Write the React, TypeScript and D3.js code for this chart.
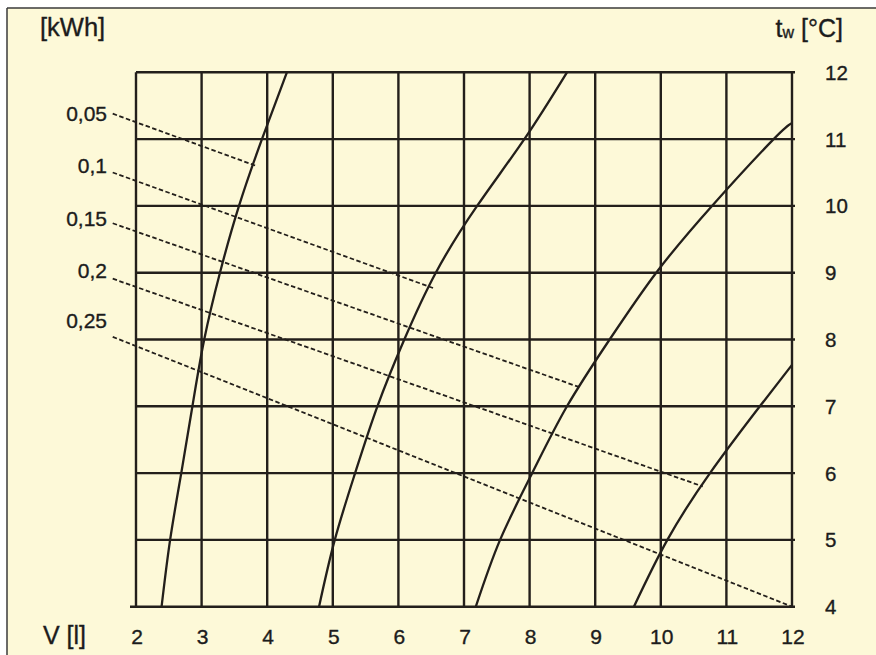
import React from "react";
import * as d3 from "d3";

// Chart frame
const W = 876;
const H = 655;

// Axis ticks
const volumeTicks = [2, 3, 4, 5, 6, 7, 8, 9, 10, 11, 12];
const tempTicks = [4, 5, 6, 7, 8, 9, 10, 11, 12];

// Solid curves: water volume V [l] against temperature tw [°C]
const curve1V = [2.39, 2.52, 2.69, 2.86, 3.04, 3.28, 3.57, 3.92, 4.3];
const curve1T = [4, 5, 6, 7, 8, 9, 10, 11, 12];
const curve2V = [4.79, 5.03, 5.34, 5.68, 6.09, 6.57, 7.2, 7.92, 8.57];
const curve2T = [4, 5, 6, 7, 8, 9, 10, 11, 12];
const curve3V = [7.18, 7.55, 8.04, 8.57, 9.22, 9.93, 10.78, 11.72, 12];
const curve3T = [4, 5, 6, 7, 8, 9, 10, 11, 11.24];
const curve4V = [9.59, 10.1, 10.75, 11.51, 12];
const curve4T = [4, 5, 6, 7, 7.62];

// Energy lines [kWh]
const energyLabels = ["0,05", "0,1", "0,15", "0,2", "0,25"];
const energyStartV = [1.645, 1.645, 1.645, 1.645, 1.645];
const energyStartT = [11.38, 10.5, 9.74, 8.91, 8.04];
const energyEndV = [3.83, 6.53, 8.75, 10.64, 12];
const energyEndT = [10.6, 8.77, 7.29, 5.8, 4.0];
const energyLabelT = [11.27, 10.49, 9.7, 8.92, 8.17];

const BG = "#fdf9d8";
const INK = "#231f1b";
const TEXT = "#1c1c1c";
const FONT = "'Liberation Sans', Arial, sans-serif";

export default function App() {
  const x = d3.scaleLinear().domain([2, 12]).range([136, 792]);
  const y = d3.scaleLinear().domain([4, 12]).range([606.7, 72.3]);

  const line = d3
    .line<[number, number]>()
    .x((d) => x(d[0]))
    .y((d) => y(d[1]))
    .curve(d3.curveNatural);

  const curves = [
    [curve1V, curve1T],
    [curve2V, curve2T],
    [curve3V, curve3T],
    [curve4V, curve4T],
  ].map(([vs, ts]) => vs.map((v, i) => [v, ts[i]] as [number, number]));

  return (
    <div style={{ position: "fixed", left: 0, top: 0, width: W, height: H }}>
      <svg width={W} height={H} style={{ display: "block" }}>
        <rect x={0} y={0} width={W} height={H} fill="#ffffff" />
        <rect x={7} y={8} width={W} height={H} fill={BG} />
        <line x1={7} y1={8} x2={W} y2={8} stroke="#3a3a3a" strokeWidth={1.5} />
        <line x1={7} y1={8} x2={7} y2={H} stroke="#3a3a3a" strokeWidth={1.5} />

        {/* grid */}
        <g stroke={INK} strokeWidth={2.4}>
          {volumeTicks.map((v) => (
            <line key={"v" + v} x1={x(v)} x2={x(v)} y1={y(12)} y2={y(4)} />
          ))}
          {tempTicks.map((t) => (
            <line
              key={"t" + t}
              x1={t === 4 ? x(2) - 6 : x(2)}
              x2={x(12) + 3}
              y1={y(t)}
              y2={y(t)}
            />
          ))}
        </g>

        {/* energy lines */}
        <g stroke={INK} strokeWidth={1.8} strokeDasharray="4.5,2.5" fill="none">
          {energyLabels.map((lab, i) => (
            <line
              key={lab}
              x1={x(energyStartV[i])}
              y1={y(energyStartT[i])}
              x2={x(energyEndV[i])}
              y2={y(energyEndT[i])}
            />
          ))}
        </g>

        {/* volume curves */}
        <g stroke={INK} strokeWidth={2.3} fill="none">
          {curves.map((pts, i) => (
            <path key={i} d={line(pts) || ""} />
          ))}
        </g>

        {/* labels */}
        <g fill={TEXT} stroke={TEXT} strokeWidth={0.35} fontFamily={FONT}>
          {energyLabels.map((lab, i) => (
            <text key={lab} x={107} y={y(energyLabelT[i])} fontSize={21} textAnchor="end">
              {lab}
            </text>
          ))}
          {tempTicks.map((t) => (
            <text key={t} x={825} y={y(t) + 7.5} fontSize={20.5}>
              {t}
            </text>
          ))}
          {volumeTicks.map((v) => (
            <text key={v} x={x(v) + 1} y={644} fontSize={21} textAnchor="middle">
              {v}
            </text>
          ))}
          <text x={40} y={36} fontSize={25.5}>
            [kWh]
          </text>
          <text x={43} y={644} fontSize={25}>
            V [l]
          </text>
          <text x={843} y={36.5} fontSize={25} textAnchor="end">
            t<tspan fontSize={16} dy={1.5}>w</tspan>
            <tspan dy={-1.5}> [°C]</tspan>
          </text>
        </g>
      </svg>
    </div>
  );
}
